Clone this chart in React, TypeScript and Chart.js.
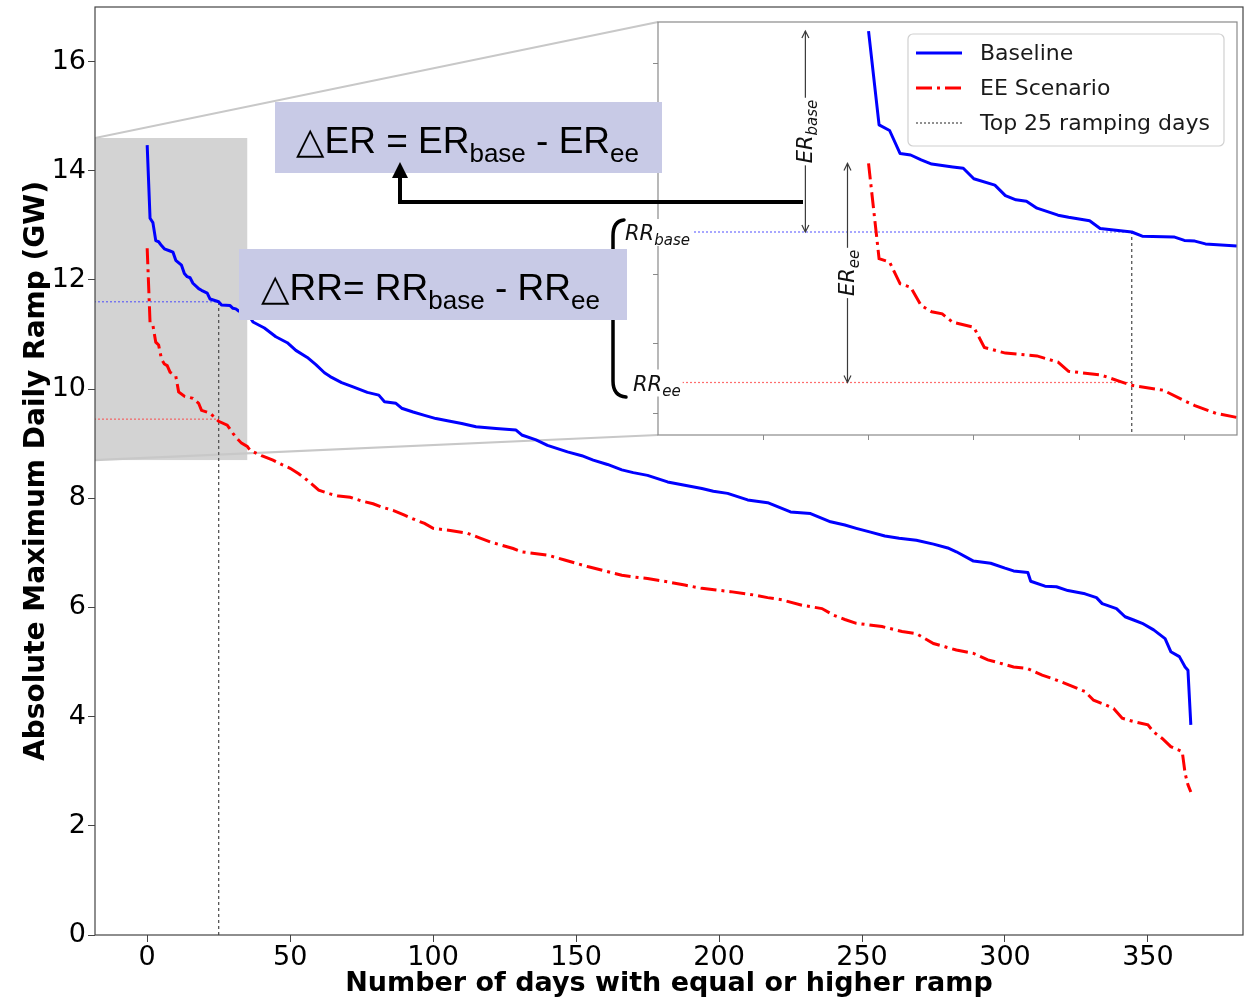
import React, { useEffect, useRef } from 'react';
import { Chart, registerables } from 'chart.js';

Chart.register(...registerables);

// ---------------- data ----------------
const blueDays = [0, 1, 2, 3, 4, 5, 6, 8, 9, 10, 12, 13, 14, 15, 16, 18, 19, 21, 22, 25, 26, 29, 30, 31, 32, 35, 37, 41, 45, 49, 52, 56, 59, 62, 64, 68, 72, 77, 81, 83, 87, 89, 93, 97, 101, 105, 110, 115, 122, 129, 131, 136, 140, 147, 152, 156, 161, 166, 170, 175, 182, 188, 194, 198, 203, 210, 217, 225, 232, 239, 244, 248, 253, 258, 263, 269, 275, 280, 283, 289, 295, 300, 303, 308, 309, 314, 318, 322, 328, 332, 334, 339, 342, 345, 348, 352, 356, 358, 361, 363, 364, 365];
const blueRamp = [14.47, 13.13, 13.05, 12.72, 12.7, 12.63, 12.57, 12.53, 12.51, 12.36, 12.27, 12.12, 12.06, 12.04, 11.94, 11.84, 11.81, 11.76, 11.65, 11.6, 11.54, 11.53, 11.48, 11.47, 11.43, 11.4, 11.23, 11.12, 10.96, 10.85, 10.71, 10.58, 10.45, 10.3, 10.23, 10.12, 10.04, 9.94, 9.89, 9.77, 9.74, 9.65, 9.58, 9.52, 9.46, 9.42, 9.37, 9.31, 9.28, 9.25, 9.16, 9.07, 8.97, 8.85, 8.78, 8.7, 8.62, 8.52, 8.47, 8.42, 8.3, 8.24, 8.18, 8.13, 8.09, 7.97, 7.92, 7.75, 7.72, 7.57, 7.51, 7.45, 7.38, 7.31, 7.27, 7.23, 7.16, 7.09, 7.02, 6.85, 6.81, 6.72, 6.67, 6.64, 6.48, 6.39, 6.38, 6.31, 6.25, 6.18, 6.07, 5.98, 5.83, 5.77, 5.71, 5.59, 5.43, 5.19, 5.1, 4.91, 4.85, 3.85];

const redDays = [0, 1, 2, 3, 4, 5, 6, 7, 8, 10, 11, 13, 16, 18, 19, 22, 24, 25, 28, 30, 31, 33, 35, 36, 40, 44, 47, 50, 53, 56, 60, 64, 67, 71, 75, 79, 82, 86, 90, 94, 97, 100, 106, 112, 116, 120, 124, 128, 131, 140, 146, 150, 154, 160, 166, 170, 175, 182, 188, 194, 199, 204, 212, 217, 222, 229, 236, 240, 244, 248, 257, 264, 269, 275, 279, 283, 289, 294, 299, 303, 308, 313, 317, 321, 328, 331, 335, 338, 341, 345, 350, 352, 355, 358, 362, 363, 364, 365];
const redRamp = [12.58, 11.22, 11.17, 10.86, 10.81, 10.55, 10.46, 10.43, 10.31, 10.24, 9.95, 9.87, 9.83, 9.74, 9.61, 9.56, 9.46, 9.41, 9.34, 9.19, 9.12, 9.01, 8.95, 8.88, 8.78, 8.7, 8.62, 8.55, 8.45, 8.33, 8.15, 8.08, 8.04, 8.02, 7.95, 7.9, 7.84, 7.78, 7.69, 7.6, 7.54, 7.45, 7.41, 7.36, 7.28, 7.2, 7.14, 7.08, 7.02, 6.96, 6.87, 6.81, 6.75, 6.67, 6.59, 6.56, 6.53, 6.47, 6.41, 6.35, 6.32, 6.29, 6.23, 6.18, 6.14, 6.04, 5.98, 5.86, 5.78, 5.71, 5.65, 5.56, 5.52, 5.34, 5.28, 5.22, 5.16, 5.04, 4.97, 4.91, 4.88, 4.76, 4.69, 4.61, 4.46, 4.3, 4.22, 4.15, 3.97, 3.91, 3.85, 3.72, 3.6, 3.45, 3.36, 2.96, 2.75, 2.62];

const xTicks = [0, 50, 100, 150, 200, 250, 300, 350];
const yTicks = [0, 2, 4, 6, 8, 10, 12, 14, 16];
const insetXTicks = [-10, 0, 10, 20, 30];
const insetYTicks = [9, 10, 11, 12, 13, 14];

const topDays = 25;
const rrBase = 11.6;
const rrEe = 9.45;
const insetXRange = [-20, 35];
const insetYRange = [8.7, 14.6];
const mainXRange = [-18.25, 383.25];
const mainYRange = [0, 17];

const seriesLabels = ['Baseline', 'EE Scenario', 'Top 25 ramping days'];
const xTitle = 'Number of days with equal or higher ramp';
const yTitle = 'Absolute Maximum Daily Ramp (GW)';

// ---------------- styling / layout ----------------
const W = 1251;
const H = 1000;
const INSET = { left: 658, top: 22, right: 1237, bottom: 435 };
const BLUE = '#0000ff';
const RED = '#ff0000';
const REF_GREY = '#555555';
const DASHDOT = [16, 5, 3, 5];
const BOX_FILL = '#c8cae6';
const TICK_FONT = { family: "'DejaVu Sans', sans-serif", size: 27 };
const SANS = "'Liberation Sans', Arial, 'DejaVu Sans', sans-serif";
const MATH = "'DejaVu Sans', sans-serif";

const pts = (xs: number[], ys: number[]) => xs.map((x, i) => ({ x, y: ys[i] }));

function makeDatasets(lw: number) {
  return [
    {
      label: seriesLabels[0],
      data: pts(blueDays, blueRamp),
      borderColor: BLUE,
      borderWidth: lw,
      pointRadius: 0,
      tension: 0,
      fill: false,
      borderJoinStyle: 'round' as const,
      clip: 0,
    },
    {
      label: seriesLabels[1],
      data: pts(redDays, redRamp),
      borderColor: RED,
      borderWidth: lw,
      borderDash: DASHDOT,
      borderCapStyle: 'butt' as const,
      pointRadius: 0,
      tension: 0,
      fill: false,
      clip: 0,
    },
    {
      label: 'rrBase',
      data: [{ x: insetXRange[0], y: rrBase }, { x: topDays, y: rrBase }],
      borderColor: 'rgba(60,60,255,0.75)',
      borderWidth: 1.2,
      borderDash: [2, 2],
      pointRadius: 0,
      clip: 0,
    },
    {
      label: 'rrEe',
      data: [{ x: insetXRange[0], y: rrEe }, { x: topDays, y: rrEe }],
      borderColor: 'rgba(255,60,60,0.75)',
      borderWidth: 1.2,
      borderDash: [2, 2],
      pointRadius: 0,
      clip: 0,
    },
    {
      label: seriesLabels[2],
      data: [{ x: topDays, y: mainYRange[0] }, { x: topDays, y: rrBase }],
      borderColor: REF_GREY,
      borderWidth: 1.3,
      borderDash: [3, 3],
      pointRadius: 0,
      clip: 0,
    },
  ];
}

type Part = [string, boolean];

function richWidth(ctx: CanvasRenderingContext2D, parts: Part[], font: string, subFont: string) {
  let w = 0;
  for (const [t, sub] of parts) {
    ctx.font = sub ? subFont : font;
    w += ctx.measureText(t).width;
  }
  return w;
}

function drawRich(ctx: CanvasRenderingContext2D, parts: Part[], x: number, y: number, font: string, subFont: string, subDy: number) {
  let cx = x;
  ctx.textBaseline = 'alphabetic';
  ctx.textAlign = 'left';
  for (const [t, sub] of parts) {
    ctx.font = sub ? subFont : font;
    ctx.fillText(t, cx, sub ? y + subDy : y);
    cx += ctx.measureText(t).width;
  }
  return cx - x;
}

function arrowHead(ctx: CanvasRenderingContext2D, x: number, y: number, dir: number) {
  ctx.beginPath();
  ctx.moveTo(x - 3.5, y + dir * 7);
  ctx.lineTo(x, y);
  ctx.lineTo(x + 3.5, y + dir * 7);
  ctx.stroke();
}

const zeroPad = (s: any) => {
  s.paddingTop = 0;
  s.paddingBottom = 0;
  s.paddingLeft = 0;
  s.paddingRight = 0;
};

const mainPlugin = {
  id: 'mainDecor',
  beforeDatasetsDraw(chart: any) {
    const { ctx, chartArea: a, scales } = chart;
    const xs = scales.x;
    const ys = scales.y;
    ctx.save();
    ctx.beginPath();
    ctx.rect(a.left, a.top, a.right - a.left, a.bottom - a.top);
    ctx.clip();
    const x0 = Math.max(a.left, xs.getPixelForValue(insetXRange[0]));
    const x1 = xs.getPixelForValue(insetXRange[1]);
    const y0 = ys.getPixelForValue(insetYRange[1]);
    const y1 = ys.getPixelForValue(insetYRange[0]);
    ctx.fillStyle = '#d3d3d3';
    ctx.fillRect(x0, y0, x1 - x0, y1 - y0);
    ctx.strokeStyle = '#c8c8c8';
    ctx.lineWidth = 2.2;
    ctx.beginPath();
    ctx.moveTo(x0, y0);
    ctx.lineTo(INSET.left, INSET.top);
    ctx.moveTo(x0, y1);
    ctx.lineTo(INSET.left, INSET.bottom);
    ctx.stroke();
    ctx.restore();
  },
  afterDraw(chart: any) {
    const { ctx, chartArea: a } = chart;
    ctx.save();
    ctx.strokeStyle = '#444';
    ctx.lineWidth = 1.2;
    ctx.strokeRect(a.left, a.top, a.right - a.left, a.bottom - a.top);
    ctx.restore();
  },
};

const insetPlugin = {
  id: 'insetDecor',
  beforeDraw(chart: any) {
    const { ctx, chartArea: a } = chart;
    ctx.save();
    ctx.fillStyle = '#fff';
    ctx.fillRect(a.left, a.top, a.right - a.left, a.bottom - a.top);
    ctx.restore();
  },
  afterDraw(chart: any) {
    const { ctx, chartArea: a, scales } = chart;
    const xs = scales.x;
    const ys = scales.y;
    ctx.save();
    // spines
    ctx.strokeStyle = '#8a8a8a';
    ctx.lineWidth = 1.2;
    ctx.strokeRect(a.left, a.top, a.right - a.left, a.bottom - a.top);

    // legend
    const lx = 908, ly = 34, lw = 316, lh = 112;
    ctx.fillStyle = 'rgba(255,255,255,0.85)';
    ctx.strokeStyle = '#d0d0d0';
    ctx.lineWidth = 1.2;
    ctx.beginPath();
    ctx.roundRect(lx, ly, lw, lh, 5);
    ctx.fill();
    ctx.stroke();
    const rows = [
      { c: BLUE, w: 3, d: [] as number[] },
      { c: RED, w: 3, d: DASHDOT },
      { c: REF_GREY, w: 1.3, d: [2, 2] },
    ];
    rows.forEach((r, i) => {
      const yy = 53 + i * 35;
      ctx.strokeStyle = r.c;
      ctx.lineWidth = r.w;
      ctx.setLineDash(r.d);
      ctx.beginPath();
      ctx.moveTo(916, yy);
      ctx.lineTo(962, yy);
      ctx.stroke();
      ctx.setLineDash([]);
      ctx.fillStyle = '#1a1a1a';
      ctx.font = `22px ${MATH}`;
      ctx.textBaseline = 'middle';
      ctx.textAlign = 'left';
      ctx.fillText(seriesLabels[i], 980, yy + 1);
    });

    // ER double arrows
    const erItems = [
      { x: xs.getPixelForValue(-6), yTop: ys.getPixelForValue(blueRamp[0]), yBot: ys.getPixelForValue(rrBase), sub: 'base' },
      { x: xs.getPixelForValue(-2), yTop: ys.getPixelForValue(redRamp[0]), yBot: ys.getPixelForValue(rrEe), sub: 'ee' },
    ];
    const mFont = `italic 21px ${MATH}`;
    const mSub = `italic 15px ${MATH}`;
    erItems.forEach((e) => {
      ctx.strokeStyle = '#3a3a3a';
      ctx.lineWidth = 1.2;
      ctx.beginPath();
      ctx.moveTo(e.x, e.yTop);
      ctx.lineTo(e.x, e.yBot);
      ctx.stroke();
      arrowHead(ctx, e.x, e.yTop, 1);
      arrowHead(ctx, e.x, e.yBot, -1);
      const parts: Part[] = [['ER', false], [e.sub, true]];
      const w = richWidth(ctx, parts, mFont, mSub);
      const cy = (e.yTop + e.yBot) / 2;
      ctx.save();
      ctx.translate(e.x, cy);
      ctx.rotate(-Math.PI / 2);
      ctx.fillStyle = '#fff';
      ctx.fillRect(-w / 2 - 2, -13, w + 4, 24);
      ctx.fillStyle = '#111';
      drawRich(ctx, parts, -w / 2, 7, mFont, mSub, 5);
      ctx.restore();
    });

    // RR labels (white background covering spine)
    const rrItems = [
      { x: 625, y: ys.getPixelForValue(rrBase), sub: 'base' },
      { x: 633, y: ys.getPixelForValue(rrEe), sub: 'ee' },
    ];
    rrItems.forEach((r) => {
      const parts: Part[] = [['RR', false], [r.sub, true]];
      const w = richWidth(ctx, parts, mFont, mSub);
      ctx.fillStyle = '#fff';
      ctx.fillRect(r.x - 1, r.y - 13, w + 3, 27);
      ctx.fillStyle = '#111';
      drawRich(ctx, parts, r.x, r.y + 8, mFont, mSub, 5);
    });

    // brace
    ctx.strokeStyle = '#000';
    ctx.lineWidth = 3.5;
    ctx.lineCap = 'round';
    ctx.beginPath();
    ctx.moveTo(624, 220);
    ctx.quadraticCurveTo(613, 221, 613, 236);
    ctx.lineTo(613, 381);
    ctx.quadraticCurveTo(613, 396, 626, 397);
    ctx.stroke();

    // formula boxes
    const boxFont = `37px ${SANS}`;
    const boxSub = `26px ${SANS}`;
    ctx.fillStyle = BOX_FILL;
    ctx.fillRect(275, 102, 387, 71);
    ctx.fillRect(239, 249, 388, 71);
    ctx.fillStyle = '#000';
    drawRich(ctx, [['\u25B3ER = ER', false], ['base', true], [' - ER', false], ['ee', true]], 296, 153, boxFont, boxSub, 9);
    drawRich(ctx, [['\u25B3RR= RR', false], ['base', true], [' - RR', false], ['ee', true]], 261, 300, boxFont, boxSub, 9);

    // black arrow from ER_base to the formula
    ctx.lineCap = 'butt';
    ctx.lineJoin = 'miter';
    ctx.lineWidth = 4;
    ctx.beginPath();
    ctx.moveTo(803, 202);
    ctx.lineTo(400, 202);
    ctx.lineTo(400, 176);
    ctx.stroke();
    ctx.fillStyle = '#000';
    ctx.beginPath();
    ctx.moveTo(392, 178);
    ctx.lineTo(408, 178);
    ctx.lineTo(400, 162);
    ctx.closePath();
    ctx.fill();
    ctx.restore();
  },
};

export default function App() {
  const mainRef = useRef<HTMLCanvasElement>(null);
  const insetRef = useRef<HTMLCanvasElement>(null);

  useEffect(() => {
    const main = new Chart(mainRef.current as HTMLCanvasElement, {
      type: 'line',
      data: { datasets: makeDatasets(3) as any },
      options: {
        animation: false,
        responsive: false,
        maintainAspectRatio: false,
        events: [],
        layout: { padding: { left: 0, top: 7, right: 8, bottom: 0 } },
        plugins: { legend: { display: false }, tooltip: { enabled: false } },
        scales: {
          x: {
            type: 'linear',
            min: mainXRange[0],
            max: mainXRange[1],
            afterBuildTicks: (s: any) => {
              s.ticks = xTicks.map((v) => ({ value: v }));
            },
            afterFit: (s: any) => {
              s.height = 65;
              zeroPad(s);
            },
            ticks: { font: TICK_FONT, color: '#000', padding: 0, maxRotation: 0, autoSkip: false },
            grid: { drawOnChartArea: false, drawTicks: true, tickLength: 7, tickColor: '#444' },
            border: { display: false },
            title: {
              display: true,
              text: xTitle,
              color: '#000',
              font: { family: "'DejaVu Sans', sans-serif", size: 27, weight: 'bold' },
              padding: { top: 0, bottom: 0 },
            },
          },
          y: {
            type: 'linear',
            min: mainYRange[0],
            max: mainYRange[1],
            afterBuildTicks: (s: any) => {
              s.ticks = yTicks.map((v) => ({ value: v }));
            },
            afterFit: (s: any) => {
              s.width = 95;
              zeroPad(s);
            },
            ticks: { font: TICK_FONT, color: '#000', padding: 2, autoSkip: false },
            grid: { drawOnChartArea: false, drawTicks: true, tickLength: 7, tickColor: '#444' },
            border: { display: false },
            title: {
              display: true,
              text: yTitle,
              color: '#000',
              font: { family: "'DejaVu Sans', sans-serif", size: 28, weight: 'bold' },
              padding: { top: 20, bottom: 0 },
            },
          },
        },
      },
      plugins: [mainPlugin],
    } as any);

    const inset = new Chart(insetRef.current as HTMLCanvasElement, {
      type: 'line',
      data: { datasets: makeDatasets(3) as any },
      options: {
        animation: false,
        responsive: false,
        maintainAspectRatio: false,
        events: [],
        layout: {
          padding: { left: INSET.left - 6, top: INSET.top, right: W - INSET.right, bottom: H - INSET.bottom - 6 },
        },
        plugins: { legend: { display: false }, tooltip: { enabled: false } },
        scales: {
          x: {
            type: 'linear',
            min: insetXRange[0],
            max: insetXRange[1],
            afterBuildTicks: (s: any) => {
              s.ticks = insetXTicks.map((v) => ({ value: v }));
            },
            afterFit: (s: any) => {
              s.height = 6;
              zeroPad(s);
            },
            ticks: { display: false },
            grid: { drawOnChartArea: false, drawTicks: true, tickLength: 5, tickColor: '#8a8a8a' },
            border: { display: false },
          },
          y: {
            type: 'linear',
            min: insetYRange[0],
            max: insetYRange[1],
            afterBuildTicks: (s: any) => {
              s.ticks = insetYTicks.map((v) => ({ value: v }));
            },
            afterFit: (s: any) => {
              s.width = 6;
              zeroPad(s);
            },
            ticks: { display: false },
            grid: { drawOnChartArea: false, drawTicks: true, tickLength: 5, tickColor: '#8a8a8a' },
            border: { display: false },
          },
        },
      },
      plugins: [insetPlugin],
    } as any);

    return () => {
      main.destroy();
      inset.destroy();
    };
  }, []);

  const cs: React.CSSProperties = { position: 'absolute', left: 0, top: 0, width: W, height: H };
  return (
    <div style={{ position: 'absolute', left: 0, top: 0, width: W, height: H, background: '#fff' }}>
      <canvas ref={mainRef} width={W} height={H} style={cs} />
      <canvas ref={insetRef} width={W} height={H} style={cs} />
    </div>
  );
}
